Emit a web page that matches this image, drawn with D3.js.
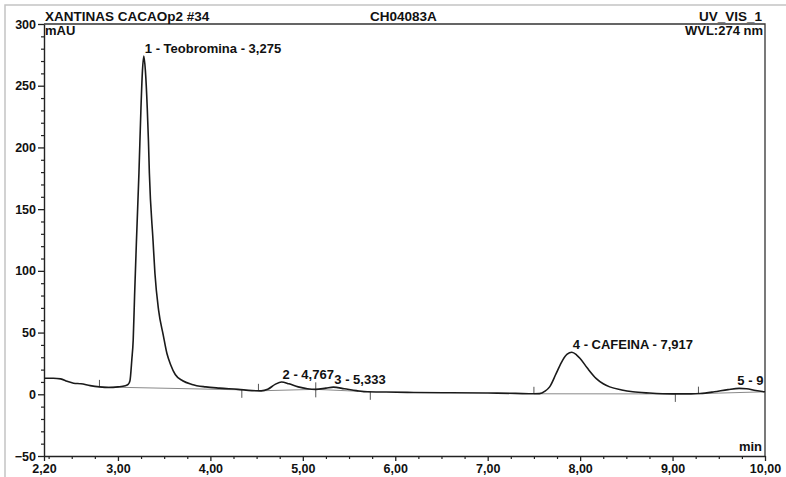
<!DOCTYPE html>
<html>
<head>
<meta charset="utf-8">
<script src="https://cdn.jsdelivr.net/npm/d3@7"></script>
<style>
  body { margin: 0; background: #fff; }
  svg { display: block; font-family: "Liberation Sans", Arial, sans-serif; }
</style>
</head>
<body>
<svg width="786" height="477"></svg>
<script>
// chromatogram trace (min, mAU)
let times = [2.20, 2.30, 2.38, 2.45, 2.52, 2.60, 2.70, 2.80, 2.90, 3.00, 3.08, 3.11, 3.13, 3.15, 3.165, 3.18,
  3.20, 3.227, 3.249, 3.265, 3.28, 3.297, 3.317, 3.33, 3.34, 3.38, 3.40, 3.44, 3.49, 3.53, 3.57, 3.62,
  3.70, 3.80, 3.95, 4.10, 4.30, 4.45, 4.55, 4.62, 4.70, 4.77, 4.85, 4.95, 5.05, 5.14, 5.25, 5.33,
  5.45, 5.58, 5.70, 5.90, 6.20, 6.60, 7.00, 7.30, 7.50, 7.56, 7.62, 7.67, 7.74, 7.81, 7.86, 7.91,
  7.96, 8.00, 8.08, 8.175, 8.25, 8.32, 8.45, 8.57, 8.75, 9.00, 9.20, 9.30, 9.45, 9.60, 9.72, 9.80,
  9.90, 10.00];
let mau = [13, 13, 12.5, 10.5, 9, 8.5, 7, 6, 5.5, 6, 7, 8, 11, 28, 44, 80,
  124, 179, 232, 262, 274, 262, 232, 205, 179, 124, 98, 68, 48, 33, 24, 16,
  11, 8, 6, 5, 4, 3, 2.8, 4, 8, 10, 8.5, 6, 4.5, 4, 5, 5.8,
  4.5, 3, 2, 1.8, 1.5, 1.2, 1, 0.7, 0.4, 0.5, 2.5, 6, 16.7, 27.5, 32.5, 34,
  32, 29, 21, 12.7, 8.5, 6, 3.5, 2, 1, 0.3, 0.3, 0.6, 2, 3.8, 4.8, 4.5,
  3, 2];

// peak labels
let peakLabels = ["1 - Teobromina - 3,275", "2 - 4,767", "3 - 5,333", "4 - CAFEINA - 7,917", "5 - 9"];
let peakTimes = [3.28, 4.77, 5.33, 7.91, 9.69];
let peakHeights = [274, 10, 5.8, 34, 4.8];

// integration baselines
let baseStartT = [2.80, 4.52, 5.14, 7.50, 9.28];
let baseStartV = [6, 2.8, 4, 0.4, 0.5];
let baseEndT = [4.34, 5.14, 5.73, 9.03, 10.0];
let baseEndV = [3.6, 4, 2, 0.3, 2];

let xTicks = [2.2, 3, 4, 5, 6, 7, 8, 9, 10];
let xTickLabels = ["2,20", "3,00", "4,00", "5,00", "6,00", "7,00", "8,00", "9,00", "10,00"];
let yTicks = [-50, 0, 50, 100, 150, 200, 250, 300];

let svg = d3.select("svg");
let pLeft = 44, pRight = 765, pTop = 24, pBottom = 456;

let x = d3.scaleLinear().domain([2.2, 10]).range([pLeft, pRight]);
let y = d3.scaleLinear().domain([-50, 300]).range([pBottom, pTop]);

// scan frame
svg.append("path")
  .attr("d", "M5,477V5H786")
  .attr("fill", "none")
  .attr("stroke", "#c4c4c4")
  .attr("stroke-width", 1.5);

// plot border (top + right)
svg.append("path")
  .attr("d", `M${pLeft},${pTop}H${pRight}V${pBottom}`)
  .attr("fill", "none")
  .attr("stroke", "#333")
  .attr("stroke-width", 1.3);

// minor ticks
let xMinor = d3.range(2.25, 10.001, 0.25).filter(d => !xTicks.some(t => Math.abs(t - d) < 1e-6));
let yMinor = d3.range(-40, 300, 10).filter(d => d % 50 !== 0);

svg.append("g")
  .attr("transform", `translate(0,${pBottom})`)
  .call(d3.axisBottom(x).tickValues(xMinor).tickSize(3).tickFormat(""))
  .call(g => g.select(".domain").remove())
  .selectAll("line").attr("stroke", "#222").attr("stroke-width", 1.2);

svg.append("g")
  .attr("transform", `translate(${pLeft},0)`)
  .call(d3.axisLeft(y).tickValues(yMinor).tickSize(3).tickFormat(""))
  .call(g => g.select(".domain").remove())
  .selectAll("line").attr("stroke", "#222").attr("stroke-width", 1.2);

let xAxis = svg.append("g")
  .attr("transform", `translate(0,${pBottom})`)
  .call(d3.axisBottom(x).tickValues(xTicks).tickSize(5).tickPadding(3)
    .tickFormat((d, i) => xTickLabels[i]).tickSizeOuter(0));

let yAxis = svg.append("g")
  .attr("transform", `translate(${pLeft},0)`)
  .call(d3.axisLeft(y).tickValues(yTicks).tickSize(6).tickPadding(2).tickSizeOuter(0));

[xAxis, yAxis].forEach(g => {
  g.select(".domain").attr("stroke", "#222").attr("stroke-width", 1.4);
  g.selectAll("line").attr("stroke", "#222").attr("stroke-width", 1.3);
  g.selectAll("text")
    .attr("fill", "#111")
    .attr("font-size", 12.5)
    .attr("font-weight", "bold")
    .attr("font-family", "'Liberation Sans', Arial, sans-serif");
});

// baselines
let bl = svg.append("g").attr("stroke", "#8a8a8a").attr("stroke-width", 1);
baseStartT.forEach((t, i) => {
  bl.append("line")
    .attr("x1", x(t)).attr("y1", y(baseStartV[i]))
    .attr("x2", x(baseEndT[i])).attr("y2", y(baseEndV[i]));
});
let tk = svg.append("g").attr("stroke", "#555").attr("stroke-width", 1);
baseStartT.forEach((t, i) => {
  tk.append("line")
    .attr("x1", x(t)).attr("x2", x(t))
    .attr("y1", y(baseStartV[i])).attr("y2", y(baseStartV[i]) - 7);
  if (baseEndT[i] < 10) {
    tk.append("line")
      .attr("x1", x(baseEndT[i])).attr("x2", x(baseEndT[i]))
      .attr("y1", y(baseEndV[i])).attr("y2", y(baseEndV[i]) + 8);
  }
});

// trace
let line = d3.line()
  .x((d, i) => x(times[i]))
  .y((d, i) => y(d))
  .curve(d3.curveMonotoneX);

svg.append("path")
  .datum(mau)
  .attr("d", line)
  .attr("fill", "none")
  .attr("stroke", "#1a1a1a")
  .attr("stroke-width", 1.6);

// peak labels
svg.append("g")
  .selectAll("text")
  .data(peakLabels)
  .enter()
  .append("text")
  .text(d => d)
  .attr("x", (d, i) => x(peakTimes[i]) + 1)
  .attr("y", (d, i) => y(peakHeights[i]) - 3)
  .attr("font-size", 13)
  .attr("font-weight", "bold")
  .attr("fill", "#111");

// header texts
let hdr = svg.append("g").attr("font-size", 13.5).attr("font-weight", "bold").attr("fill", "#111");
hdr.append("text").attr("x", 45).attr("y", 21).text("XANTINAS CACAOp2 #34");
hdr.append("text").attr("x", 370).attr("y", 21).text("CH04083A");
hdr.append("text").attr("x", 762).attr("y", 21).attr("text-anchor", "end").text("UV_VIS_1");
hdr.append("text").attr("x", 763).attr("y", 35).attr("text-anchor", "end").attr("font-size", 13).text("WVL:274 nm");
hdr.append("text").attr("x", 45).attr("y", 35).attr("font-size", 13).text("mAU");
hdr.append("text").attr("x", 762).attr("y", 451).attr("text-anchor", "end").attr("font-size", 13).text("min");
</script>
</body>
</html>
